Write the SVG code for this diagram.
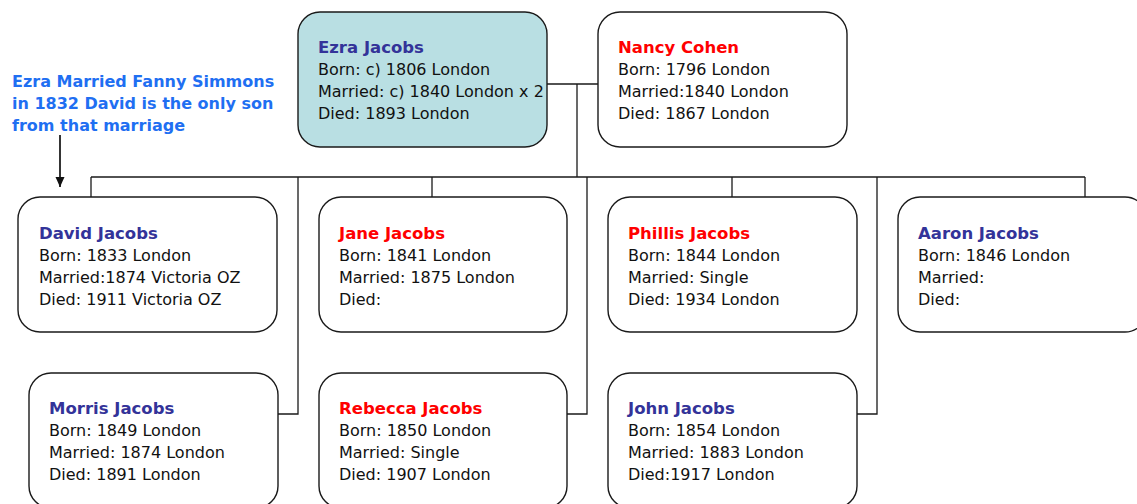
<svg xmlns="http://www.w3.org/2000/svg" width="1137" height="504" viewBox="0 0 1137 504">
<style>
.box{fill:#ffffff;stroke:#1a1a1a;stroke-width:1.4}
.hl{fill:#b9dfe3}
.t{font-family:"DejaVu Sans",Verdana,sans-serif;font-size:16px;fill:#111}
.nm{font-weight:bold;fill:#333399;font-size:16.5px}
.f{fill:#ff0000}
.con{fill:none;stroke:#1a1a1a;stroke-width:1.3}
.note{font-family:"DejaVu Sans",Verdana,sans-serif;font-size:16px;font-weight:bold;fill:#1f6ff2}
</style>
<defs>
<marker id="ah" markerWidth="10" markerHeight="10" refX="10" refY="5" orient="auto" markerUnits="userSpaceOnUse">
<path d="M0,0.5 L10,5 L0,9.5 Z" fill="#111"/>
</marker>
</defs>
<rect width="1137" height="504" fill="#ffffff"/>
<g id="connectors">
<path class="con" d="M547,84 H598 M577,84 V177 M91,177 H1085"/>
<path class="con" d="M91,177 V197 M432,177 V197 M732,177 V197 M1085,177 V197"/>
<path class="con" d="M298,177 V414 H278 M587,177 V414 H567 M877,177 V414 H857"/>
</g>
<g id="note">
<text class="note" x="12" y="87">Ezra Married Fanny Simmons</text>
<text class="note" x="12" y="109">in 1832 David is the only son</text>
<text class="note" x="12" y="131">from that marriage</text>
<line x1="60" y1="135" x2="60" y2="187" stroke="#111" stroke-width="1.7" marker-end="url(#ah)"/>
</g>
<g id="ezra">
<rect class="box hl" x="298" y="12" width="249" height="135" rx="22"/>
<text class="t" x="318"><tspan class="nm" y="53">Ezra Jacobs</tspan><tspan x="318" y="75">Born: c) 1806 London</tspan><tspan x="318" y="97">Married: c) 1840 London x 2</tspan><tspan x="318" y="119">Died: 1893 London</tspan></text>
</g>
<g id="nancy">
<rect class="box" x="598" y="12" width="249" height="135" rx="22"/>
<text class="t" x="618"><tspan class="nm f" y="53">Nancy Cohen</tspan><tspan x="618" y="75">Born: 1796 London</tspan><tspan x="618" y="97">Married:1840 London</tspan><tspan x="618" y="119">Died: 1867 London</tspan></text>
</g>
<g id="david">
<rect class="box" x="18" y="197" width="259" height="135" rx="22"/>
<text class="t" x="39"><tspan class="nm" y="239">David Jacobs</tspan><tspan x="39" y="261">Born: 1833 London</tspan><tspan x="39" y="283">Married:1874 Victoria OZ</tspan><tspan x="39" y="305">Died: 1911 Victoria OZ</tspan></text>
</g>
<g id="jane">
<rect class="box" x="319" y="197" width="248" height="135" rx="22"/>
<text class="t" x="339"><tspan class="nm f" y="239">Jane Jacobs</tspan><tspan x="339" y="261">Born: 1841 London</tspan><tspan x="339" y="283">Married: 1875 London</tspan><tspan x="339" y="305">Died:</tspan></text>
</g>
<g id="phillis">
<rect class="box" x="608" y="197" width="249" height="135" rx="22"/>
<text class="t" x="628"><tspan class="nm f" y="239">Phillis Jacobs</tspan><tspan x="628" y="261">Born: 1844 London</tspan><tspan x="628" y="283">Married: Single</tspan><tspan x="628" y="305">Died: 1934 London</tspan></text>
</g>
<g id="aaron">
<rect class="box" x="898" y="197" width="249" height="135" rx="22"/>
<text class="t" x="918"><tspan class="nm" y="239">Aaron Jacobs</tspan><tspan x="918" y="261">Born: 1846 London</tspan><tspan x="918" y="283">Married:</tspan><tspan x="918" y="305">Died:</tspan></text>
</g>
<g id="morris">
<rect class="box" x="29" y="373" width="249" height="135" rx="22"/>
<text class="t" x="49"><tspan class="nm" y="414">Morris Jacobs</tspan><tspan x="49" y="436">Born: 1849 London</tspan><tspan x="49" y="458">Married: 1874 London</tspan><tspan x="49" y="480">Died: 1891 London</tspan></text>
</g>
<g id="rebecca">
<rect class="box" x="319" y="373" width="248" height="135" rx="22"/>
<text class="t" x="339"><tspan class="nm f" y="414">Rebecca Jacobs</tspan><tspan x="339" y="436">Born: 1850 London</tspan><tspan x="339" y="458">Married: Single</tspan><tspan x="339" y="480">Died: 1907 London</tspan></text>
</g>
<g id="john">
<rect class="box" x="608" y="373" width="249" height="135" rx="22"/>
<text class="t" x="628"><tspan class="nm" y="414">John Jacobs</tspan><tspan x="628" y="436">Born: 1854 London</tspan><tspan x="628" y="458">Married: 1883 London</tspan><tspan x="628" y="480">Died:1917 London</tspan></text>
</g>
</svg>
